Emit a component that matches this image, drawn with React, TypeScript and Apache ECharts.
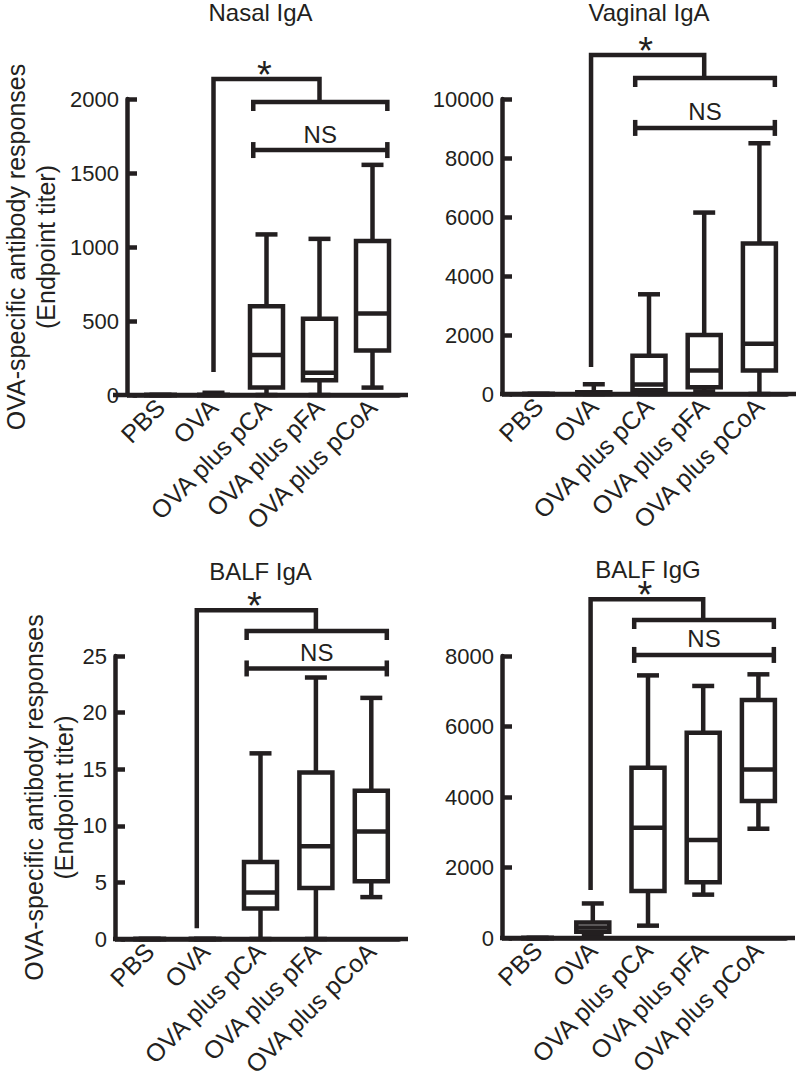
import React, { useEffect, useRef } from 'react';
import * as echarts from 'echarts';

// ---------- data ----------
const categories = ['PBS', 'OVA', 'OVA plus pCA', 'OVA plus pFA', 'OVA plus pCoA'];
const panelTitles = ['Nasal IgA', 'Vaginal IgA', 'BALF IgA', 'BALF IgG'];
const yMaxValues = [2000, 10000, 25, 8000];
const yIntervals = [500, 2000, 5, 2000];
const yAxisName = 'OVA-specific antibody responses\n(Endpoint titer)';

// box statistics per category: [min, Q1, median, Q3, max]
const nasalIgA = [
  [0, 0, 0, 0, 0],
  [0, 0, 0, 0, 15],
  [0, 50, 270, 600, 1085],
  [0, 100, 150, 515, 1055],
  [50, 300, 550, 1040, 1555],
];
const vaginalIgA = [
  [0, 0, 0, 0, 0],
  [0, 0, 20, 60, 330],
  [0, 130, 320, 1300, 3380],
  [90, 230, 800, 2000, 6150],
  [0, 800, 1700, 5100, 8500],
];
const balfIgA = [
  [0, 0, 0, 0, 0],
  [0, 0, 0, 0, 0],
  [0, 2.7, 4.1, 6.8, 16.4],
  [0, 4.5, 8.2, 14.7, 23.1],
  [3.7, 5.1, 9.5, 13.1, 21.3],
];
const balfIgG = [
  [0, 0, 0, 0, 0],
  [60, 180, 300, 440, 980],
  [350, 1330, 3130, 4830, 7450],
  [1230, 1580, 2780, 5820, 7150],
  [3100, 3890, 4780, 6750, 7480],
];
const panelData = [nasalIgA, vaginalIgA, balfIgA, balfIgG];

// significance brackets (values on each panel's y scale)
const starStemBottom = [155, 915, 0.94, 1360];
const starBracketTop = [2135, 11490, 29.05, 9610];
const groupBracket = [1980, 10710, 27.2, 9020];
const nsBracket = [1655, 9020, 23.9, 8030];
const starLabel = '*';
const nsLabel = 'NS';

// ---------- layout / style ----------
const INK = '#231f20';
const FONT = '"Liberation Sans", Arial, Helvetica, sans-serif';
const grids = [
  { left: 122, top: 99, width: 277, height: 296, axisX: 115, titleTop: 0, nameGap: 66 },
  { left: 511, top: 99, width: 276, height: 295, axisX: 502, titleTop: 0, nameGap: 0 },
  { left: 122, top: 656, width: 277, height: 283, axisX: 115, titleTop: 559, nameGap: 35 },
  { left: 510, top: 656, width: 276, height: 282, axisX: 502, titleTop: 557, nameGap: 0 },
];
const stemOffset = [0, -0.05, -0.15, -0.04];
const LW = 4.5;

function boxRenderer(params: any, api: any) {
  const cat = api.value(0);
  const vals = [1, 2, 3, 4, 5].map((i) => api.value(i));
  const x = api.coord([cat, 0])[0];
  const y = vals.map((v: number) => api.coord([cat, v])[1]);
  const hw = 16.5;
  const cw = 11;
  const st = { stroke: INK, lineWidth: LW, fill: null, lineCap: 'butt' };
  return {
    type: 'group',
    children: [
      { type: 'line', shape: { x1: x, y1: y[4], x2: x, y2: y[3] }, style: st },
      { type: 'line', shape: { x1: x, y1: y[1], x2: x, y2: y[0] }, style: st },
      { type: 'line', shape: { x1: x - cw, y1: y[4], x2: x + cw, y2: y[4] }, style: st },
      { type: 'line', shape: { x1: x - cw, y1: y[0], x2: x + cw, y2: y[0] }, style: st },
      {
        type: 'rect',
        shape: { x: x - hw, y: y[3], width: 2 * hw, height: y[1] - y[3] },
        style: { stroke: INK, lineWidth: LW, fill: '#ffffff' },
      },
      { type: 'line', shape: { x1: x - hw, y1: y[2], x2: x + hw, y2: y[2] }, style: st },
    ],
  };
}

function annotationRenderer(p: number) {
  return (params: any, api: any) => {
    const bw = api.size([1, 0])[0];
    const P = (cat: number, off: number, v: number) => {
      const pt = api.coord([cat, v]);
      return [pt[0] + off * bw, pt[1]];
    };
    const g = grids[p];
    const y0 = api.coord([0, 0])[1];
    const rightEdge = api.coord([4, 0])[0] + bw / 2;
    const stemB = P(1, stemOffset[p], starStemBottom[p]);
    const stemT = P(1, stemOffset[p], starBracketTop[p]);
    const joinT = P(3, 0, starBracketTop[p]);
    const joinB = P(3, 0, groupBracket[p]);
    const gl = P(2, -0.25, groupBracket[p]);
    const gr = P(4, 0.28, groupBracket[p]);
    const nl = P(2, -0.25, nsBracket[p]);
    const nr = P(4, 0.28, nsBracket[p]);
    const st = { stroke: INK, lineWidth: LW, fill: null, lineJoin: 'miter', lineCap: 'butt' };
    const starFs = 38;
    return {
      type: 'group',
      children: [
        // axis baseline extension
        { type: 'line', shape: { x1: g.axisX - 2, y1: y0, x2: rightEdge + 9, y2: y0 }, style: st },
        // star bracket
        {
          type: 'polyline',
          shape: { points: [stemB, stemT, joinT, joinB] },
          style: st,
        },
        // group bracket
        {
          type: 'polyline',
          shape: { points: [[gl[0], gl[1] + 9], gl, gr, [gr[0], gr[1] + 9]] },
          style: st,
        },
        // NS bracket
        { type: 'line', shape: { x1: nl[0], y1: nl[1], x2: nr[0], y2: nr[1] }, style: st },
        { type: 'line', shape: { x1: nl[0], y1: nl[1] - 8, x2: nl[0], y2: nl[1] + 8 }, style: st },
        { type: 'line', shape: { x1: nr[0], y1: nr[1] - 8, x2: nr[0], y2: nr[1] + 8 }, style: st },
        {
          type: 'text',
          x: (stemT[0] + joinT[0]) / 2 - 2,
          y: stemT[1] - 4,
          style: {
            text: starLabel, fill: INK, fontSize: starFs, fontFamily: FONT,
            align: 'center', verticalAlign: 'middle', textAlign: 'center', textVerticalAlign: 'middle',
          },
        },
        {
          type: 'text',
          x: (nl[0] + nr[0]) / 2,
          y: nl[1] - 16,
          style: {
            text: nsLabel, fill: INK, fontSize: 24, fontFamily: FONT,
            align: 'center', verticalAlign: 'middle', textAlign: 'center', textVerticalAlign: 'middle',
          },
        },
      ],
    };
  };
}

export default function App() {
  const ref = useRef<HTMLDivElement>(null);
  useEffect(() => {
    if (!ref.current) return;
    const chart = echarts.init(ref.current, null, { renderer: 'svg' });
    const option: any = {
      animation: false,
      backgroundColor: '#ffffff',
      textStyle: { fontFamily: FONT, color: INK },
      title: panelTitles.map((t, i) => ({
        text: t,
        left: grids[i].left + grids[i].width / 2,
        top: grids[i].titleTop,
        textAlign: 'center',
        padding: 0,
        textStyle: { fontSize: 24, fontWeight: 'normal', color: INK, fontFamily: FONT },
      })),
      grid: grids.map((g) => ({ left: g.left, top: g.top, width: g.width, height: g.height, containLabel: false })),
      xAxis: grids.map((g, i) => ({
        type: 'category',
        gridIndex: i,
        data: categories,
        axisLine: { show: true, lineStyle: { color: INK, width: LW } },
        axisTick: { show: false },
        axisLabel: {
          rotate: 45, interval: 0, margin: 8, fontSize: 25, color: INK, fontFamily: FONT,
        },
        splitLine: { show: false },
      })),
      yAxis: grids.map((g, i) => ({
        type: 'value',
        gridIndex: i,
        min: 0,
        max: yMaxValues[i],
        interval: yIntervals[i],
        offset: g.left - g.axisX,
        name: g.nameGap ? yAxisName : '',
        nameLocation: 'middle',
        nameGap: g.nameGap,
        nameTextStyle: { fontSize: 25, lineHeight: 30, color: INK, fontFamily: FONT },
        axisLine: { show: true, lineStyle: { color: INK, width: LW } },
        axisTick: { show: true, inside: true, length: 10, lineStyle: { color: INK, width: LW } },
        axisLabel: {
          fontSize: 22, margin: 8, color: INK, fontFamily: FONT,
          formatter: (v: number) => String(v),
        },
        splitLine: { show: false },
      })),
      series: [
        ...panelData.map((d, i) => ({
          type: 'custom',
          name: panelTitles[i],
          xAxisIndex: i,
          yAxisIndex: i,
          clip: false,
          renderItem: boxRenderer,
          encode: { x: 0, y: [1, 2, 3, 4, 5] },
          data: d.map((s, ci) => [ci, ...s]),
        })),
        ...panelData.map((d, i) => ({
          type: 'custom',
          name: panelTitles[i] + ' significance',
          xAxisIndex: i,
          yAxisIndex: i,
          clip: false,
          silent: true,
          renderItem: annotationRenderer(i),
          encode: { x: 0, y: 1 },
          data: [[0, 0]],
        })),
      ],
    };
    chart.setOption(option);
    return () => chart.dispose();
  }, []);
  return (
    <div
      ref={ref}
      style={{ position: 'absolute', left: 0, top: 0, width: 797, height: 1083, background: '#fff' }}
    />
  );
}
